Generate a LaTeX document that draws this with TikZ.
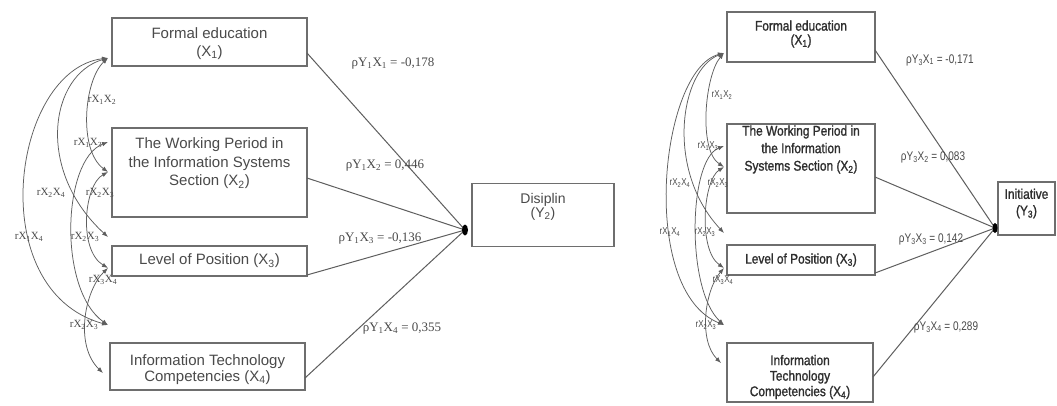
\documentclass[tikz,border=0pt]{standalone}
\usepackage{fontspec}
\setmainfont{Liberation Sans}
\newfontfamily\serifl{Liberation Serif}
\newfontfamily\narrowf[FakeStretch=0.85,FakeBold=1.3]{Liberation Sans}
\newfontfamily\narrowl[FakeStretch=0.8]{Liberation Sans}
\usetikzlibrary{arrows.meta,calc}
\definecolor{boxgray}{HTML}{6E6E6E}
\definecolor{linegray}{HTML}{5E5E5E}
\definecolor{textgray}{HTML}{4A4A4A}
\definecolor{textdark}{HTML}{2E2E2E}
\tikzset{
  bx/.style={draw=boxgray, line width=1.1pt, inner sep=0pt, outer sep=0pt},
  ltext/.style={inner sep=0pt, align=center, text=textgray, font=\fontsize{15}{17.5}\selectfont},
  rtext/.style={inner sep=0pt, align=center, text=textdark, font=\narrowf\fontsize{14}{16.5}\selectfont},
  pathline/.style={draw=linegray, line width=1pt},
  corr/.style={draw=linegray, line width=0.75pt, {Latex[length=6pt,width=4.5pt]}-{Latex[length=6pt,width=4.5pt]}},
  rlab/.style={text=textgray, font=\serifl\fontsize{11}{12}\selectfont, inner sep=0.5pt},
  rlabR/.style={text=textgray, font=\narrowl\fontsize{10}{11}\selectfont, inner sep=0.5pt},
  plab/.style={text=textgray, font=\serifl\fontsize{13}{14}\selectfont, inner sep=0.5pt},
  plabR/.style={text=textgray, font=\narrowl\fontsize{12.5}{13}\selectfont, inner sep=0.5pt},
}
\begin{document}
\begin{tikzpicture}[x=1pt,y=-1pt]
\useasboundingbox (0,0) rectangle (1057,405);
\fill[white] (0,0) rectangle (1057,405);

% ---------------- LEFT DIAGRAM ----------------
\node[bx, minimum width=195pt, minimum height=48pt] (X1L) at (209.5,42) {};
\node[bx, minimum width=195pt, minimum height=89pt] (X2L) at (209.5,172.5) {};
\node[bx, minimum width=195pt, minimum height=30pt] (X3L) at (209.5,261) {};
\node[bx, minimum width=195pt, minimum height=47pt] (X4L) at (207.5,366.5) {};
\node[bx, minimum width=142pt, minimum height=63pt] (YL) at (543,215) {};

\node[ltext] (tX1L) at (209.5,43.5) {Formal education\\(X\textsubscript{1})};
\node[ltext, font=\fontsize{15}{18.5}\selectfont] (tX2L) at (209.5,163.5) {The Working Period in\\the Information Systems\\Section (X\textsubscript{2})};
\node[ltext] (tX3L) at (209.5,261) {Level of Position (X\textsubscript{3})};
\node[ltext, font=\fontsize{15}{16}\selectfont] (tX4L) at (207.5,369.5) {Information Technology\\Competencies (X\textsubscript{4})};
\node[ltext, font=\fontsize{14}{14}\selectfont] (tYL) at (543,206.5) {Disiplin\\(Y\textsubscript{2})};

\coordinate (hubL) at (465,230);
\draw[pathline] (X1L.east |- 0,53) -- (hubL);
\draw[pathline] (X2L.east |- 0,178) -- (hubL);
\draw[pathline] (X3L.east |- 0,275) -- (hubL);
\draw[pathline] (X4L.east |- 0,378) -- (hubL);
\fill[black] (hubL) ellipse (3 and 5.5);

\node[plab] (pL1) at (393,64) {ρY\textsubscript{1}X\textsubscript{1} = -0,178};
\node[plab] (pL2) at (385,166) {ρY\textsubscript{1}X\textsubscript{2} = 0,446};
\node[plab] (pL3) at (380,239) {ρY\textsubscript{1}X\textsubscript{3} = -0,136};
\node[plab] (pL4) at (402,329) {ρY\textsubscript{1}X\textsubscript{4} = 0,355};

\coordinate (e1) at (108,58);
\coordinate (e2) at (108,142);
\coordinate (e3) at (108,172);
\coordinate (e4) at (108,237);
\coordinate (e5) at (108,268);
\coordinate (e6) at (108,325);
\coordinate (e7) at (103,373);

\draw[corr] (e1) .. controls (84,80) and (78,150) .. (e3);
\draw[corr] (e1) .. controls (50,75) and (35,170) .. (e4);
\draw[corr] (e1) .. controls (12,70) and (-18,290) .. (e6);
\draw[corr] (e2) .. controls (62,160) and (58,290) .. (e6);
\draw[corr] (e3) .. controls (84,185) and (78,250) .. (e5);
\draw[corr] (e5) .. controls (85,290) and (74,345) .. (e7);

\node[rlab] (rL1) at (102,100) {rX\textsubscript{1}X\textsubscript{2}};
\node[rlab] (rL2) at (88,143) {rX\textsubscript{1}X\textsubscript{3}};
\node[rlab] (rL3) at (51,193) {rX\textsubscript{2}X\textsubscript{4}};
\node[rlab] (rL4) at (100,193) {rX\textsubscript{2}X\textsubscript{3}};
\node[rlab] (rL5) at (29,237) {rX\textsubscript{1}X\textsubscript{4}};
\node[rlab] (rL6) at (85,237) {rX\textsubscript{2}X\textsubscript{3}};
\node[rlab] (rL7) at (103,280) {rX\textsubscript{3}X\textsubscript{4}};
\node[rlab] (rL8) at (84,325) {rX\textsubscript{2}X\textsubscript{3}};

% ---------------- RIGHT DIAGRAM ----------------
\node[bx, minimum width=148pt, minimum height=50pt] (X1R) at (801,37) {};
\node[bx, minimum width=148pt, minimum height=89pt] (X2R) at (801,168.5) {};
\node[bx, minimum width=148pt, minimum height=30pt] (X3R) at (801,260) {};
\node[bx, minimum width=146pt, minimum height=59pt] (X4R) at (800,372.5) {};
\node[bx, minimum width=57pt, minimum height=53pt] (YR) at (1026.5,208.5) {};

\node[rtext, font=\narrowf\fontsize{14}{14}\selectfont] (tX1R) at (801,34) {Formal education\\(X\textsubscript{1})};
\node[rtext, font=\narrowf\fontsize{14}{17.5}\selectfont] (tX2R) at (801,149.5) {The Working Period in\\the Information\\Systems Section (X\textsubscript{2})};
\node[rtext] (tX3R) at (801,260) {Level of Position (X\textsubscript{3})};
\node[rtext, font=\narrowf\fontsize{14}{15.5}\selectfont] (tX4R) at (800,377) {Information\\Technology\\Competencies (X\textsubscript{4})};
\node[rtext] (tYR) at (1026.5,203.5) {Initiative\\(Y\textsubscript{3})};

\coordinate (hubR) at (995,228);
\draw[pathline] (X1R.east |- 0,50) -- (hubR);
\draw[pathline] (X2R.east |- 0,177) -- (hubR);
\draw[pathline] (X3R.east |- 0,273) -- (hubR);
\draw[pathline] (X4R.east |- 0,377) -- (hubR);
\fill[black] (hubR) ellipse (2.5 and 5);

\node[plabR] (pR1) at (940,60) {ρY\textsubscript{3}X\textsubscript{1} = -0,171};
\node[plabR] (pR2) at (933,157) {ρY\textsubscript{3}X\textsubscript{2} = 0,083};
\node[plabR] (pR3) at (931,239) {ρY\textsubscript{3}X\textsubscript{3} = 0,142};
\node[plabR] (pR4) at (946,327) {ρY\textsubscript{3}X\textsubscript{4} = 0,289};

\coordinate (f1) at (724,53);
\coordinate (f2) at (724,146);
\coordinate (f3) at (724,167);
\coordinate (f4) at (724,233);
\coordinate (f5) at (724,268);
\coordinate (f6) at (724,325);
\coordinate (f7) at (721,363);

\draw[corr] (f1) .. controls (705,75) and (698,150) .. (f3);
\draw[corr] (f1) .. controls (680,70) and (665,170) .. (f4);
\draw[corr] (f1) .. controls (660,70) and (638,290) .. (f6);
\draw[corr] (f2) .. controls (688,160) and (686,290) .. (f6);
\draw[corr] (f3) .. controls (703,180) and (698,250) .. (f5);
\draw[corr] (f5) .. controls (705,290) and (698,340) .. (f7);

\node[rlabR] (rR1) at (722,95) {rX\textsubscript{1}X\textsubscript{2}};
\node[rlabR] (rR2) at (708,146) {rX\textsubscript{1}X\textsubscript{3}};
\node[rlabR] (rR3) at (680,183) {rX\textsubscript{2}X\textsubscript{4}};
\node[rlabR] (rR4) at (718,183) {rX\textsubscript{2}X\textsubscript{3}};
\node[rlabR] (rR5) at (670,232) {rX\textsubscript{1}X\textsubscript{4}};
\node[rlabR] (rR6) at (705,232) {rX\textsubscript{2}X\textsubscript{3}};
\node[rlabR] (rR7) at (723,280) {rX\textsubscript{3}X\textsubscript{4}};
\node[rlabR] (rR8) at (706,325) {rX\textsubscript{2}X\textsubscript{3}};
\end{tikzpicture}
\end{document}
